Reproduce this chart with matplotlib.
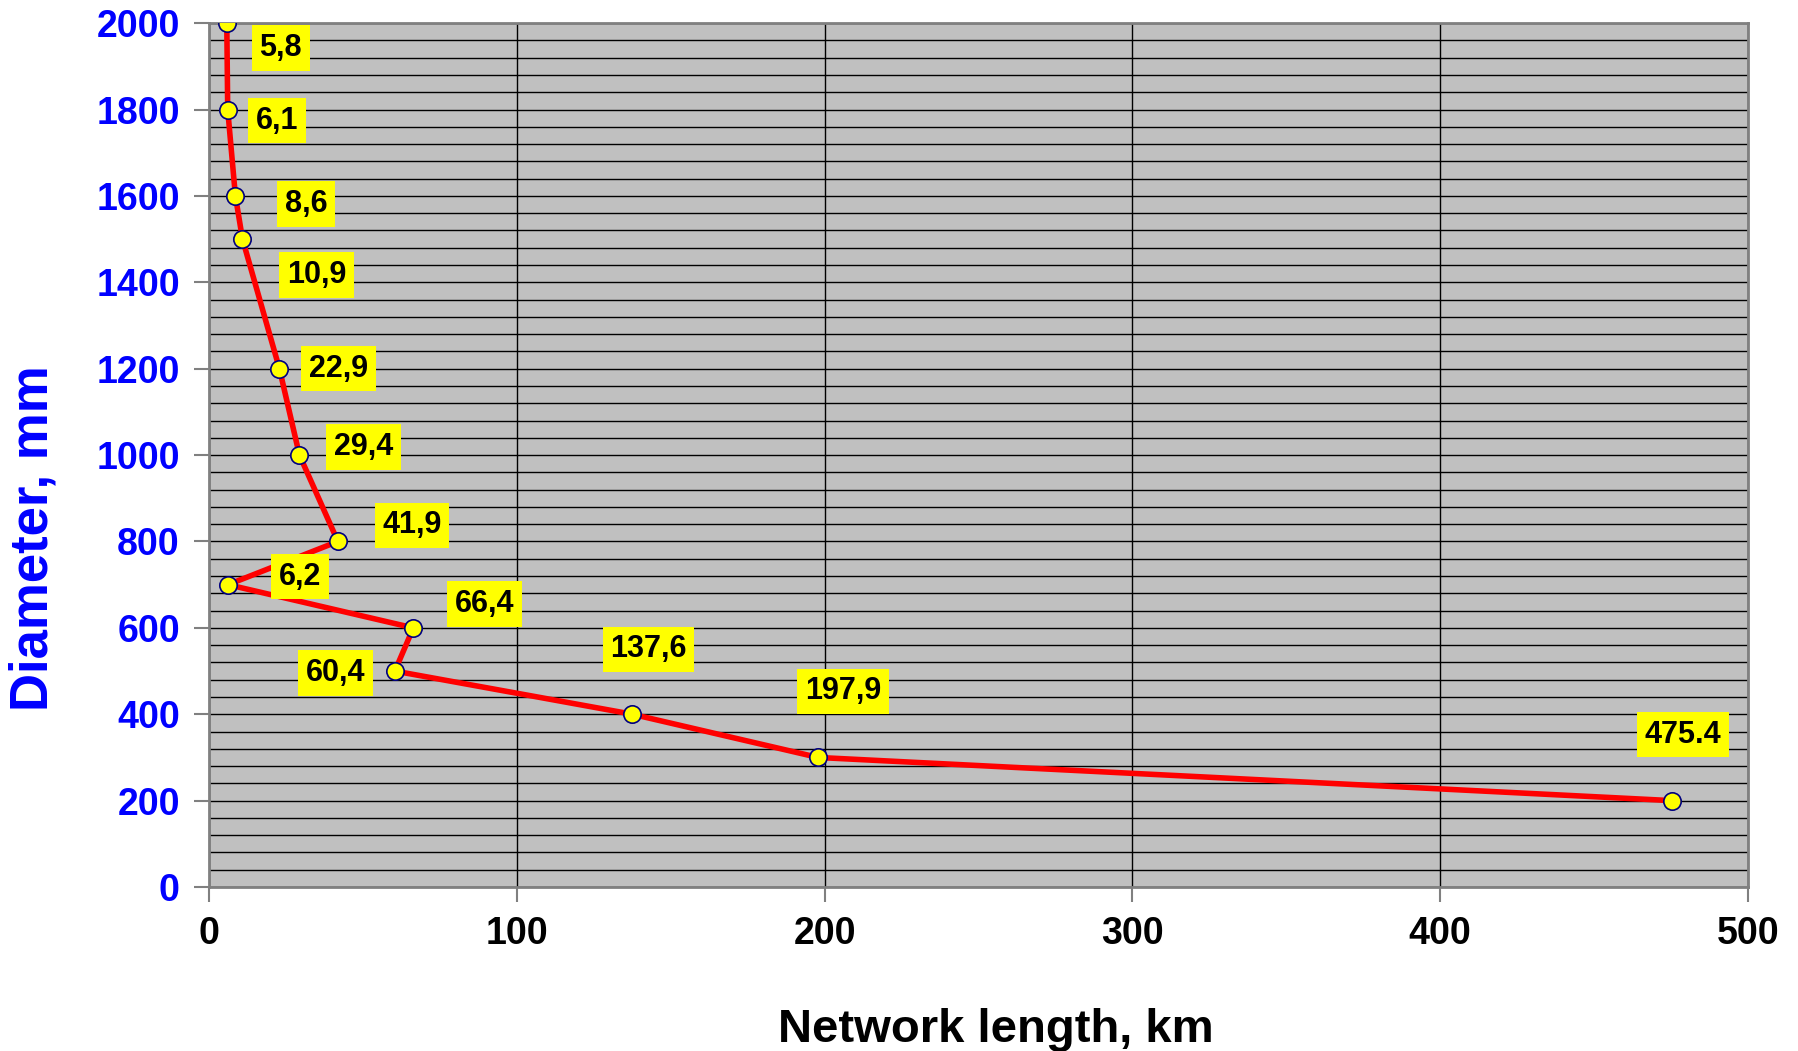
import numpy as np
import matplotlib
matplotlib.use('Agg')
import matplotlib.pyplot as plt
from matplotlib.ticker import MultipleLocator

plt.rcParams['font.family'] = ['Liberation Sans', 'DejaVu Sans']
plt.rcParams['font.weight'] = 'bold'

# network length (km) vs pipe diameter (mm)
length_km = [5.8, 6.1, 8.6, 10.9, 22.9, 29.4, 41.9, 6.2, 66.4, 60.4, 137.6, 197.9, 475.4]
diameter_mm = [2000, 1800, 1600, 1500, 1200, 1000, 800, 700, 600, 500, 400, 300, 200]
point_labels = ['5,8', '6,1', '8,6', '10,9', '22,9', '29,4', '41,9', '6,2', '66,4',
                '60,4', '137,6', '197,9', '475.4']

# label offsets from the point, pixels (dx, dy up)
label_off = [(54, -25), (49, -11), (71, -8), (74, -36), (59, 0), (64, 8), (74, 16),
             (72, 8), (71, 24), (-59, -2), (16, 65), (25, 66), (11, 66)]

fig = plt.figure(figsize=(17.98, 10.51), dpi=100)
ax = fig.add_axes([0.1162, 0.156, 0.856, 0.822])
ax.set_facecolor('#C0C0C0')

ax.plot(length_km, diameter_mm, color='#FF0000', lw=4, zorder=3,
        marker='o', markersize=12.5, markerfacecolor='#FFFF00',
        markeredgecolor='#000080', markeredgewidth=1.2)

for x, y, t, (dx, dy) in zip(length_km, diameter_mm, point_labels, label_off):
    ax.annotate(t, (x, y), xytext=(dx, dy), textcoords='offset pixels',
                ha='center', va='center', fontsize=22, fontweight='bold', color='black',
                bbox=dict(boxstyle='square,pad=0.25', fc='#FFFF00', ec='none'), zorder=4)

ax.set_xlim(0, 500)
ax.set_ylim(0, 2000)
ax.xaxis.set_major_locator(MultipleLocator(100))
ax.yaxis.set_major_locator(MultipleLocator(200))
ax.yaxis.set_minor_locator(MultipleLocator(40))
ax.grid(True, which='major', axis='x', color='black', lw=1)
ax.grid(True, which='both', axis='y', color='black', lw=1)
ax.set_axisbelow(True)
ax.tick_params(axis='y', which='minor', length=0)
ax.tick_params(axis='both', which='major', length=11, width=1.5, color='#808080', pad=10)
ax.tick_params(axis='y', labelsize=27, labelcolor='#0000FF')
ax.tick_params(axis='x', labelsize=27, labelcolor='black')
for lab in ax.get_xticklabels() + ax.get_yticklabels():
    lab.set_fontweight('bold')
for s in ax.spines.values():
    s.set_color('#808080')
    s.set_linewidth(2)

ax.set_xlabel('Network length, km', fontsize=34, fontweight='bold', va='center')
ax.set_ylabel('Diameter, mm', fontsize=38, fontweight='bold', color='#0000FF', va='center')
ax.xaxis.set_label_coords(0.511, -0.165)
ax.yaxis.set_label_coords(-0.1137, 0.404)

fig.savefig('out.png', dpi=100)
